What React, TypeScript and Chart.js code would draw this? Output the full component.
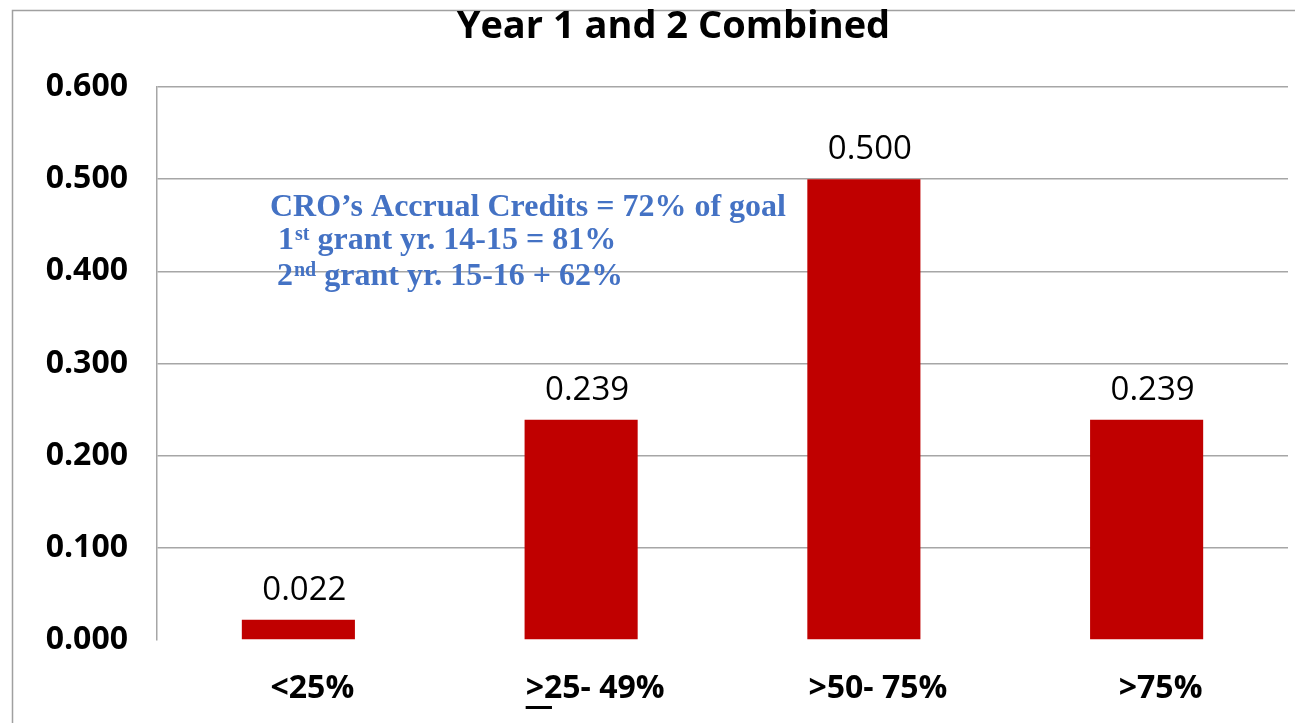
import React, { useEffect, useRef } from "react";
import { Chart, registerables } from "chart.js";

Chart.register(...registerables);

const categories = ["<25%", ">25- 49%", ">50- 75%", ">75%"];
const values = [0.022, 0.239, 0.5, 0.239];
const yTicks = [0, 0.1, 0.2, 0.3, 0.4, 0.5, 0.6];
const titleText = "Year 1 and 2 Combined";
const noteLine1 = "CRO\u2019s Accrual Credits = 72% of goal";
const noteLine2 = { lead: "1", sup: "st", rest: " grant yr. 14-15 = 81%" };
const noteLine3 = { lead: "2", sup: "nd", rest: " grant yr. 15-16 + 62%" };

const BAR_COLOR = "#C00000";
const GRID_COLOR = "#A6A6A6";
const NOTE_COLOR = "#4472C4";
const SANS = "'Open Sans', 'Liberation Sans', sans-serif";
const SERIF = "'Liberation Serif', 'DejaVu Serif', serif";

const framePlugin = {
  id: "frame",
  beforeDraw(chart: any) {
    const ctx = chart.ctx;
    ctx.save();
    ctx.strokeStyle = "#A0A0A0";
    ctx.lineWidth = 1.5;
    ctx.strokeRect(12.5, 10.5, chart.width + 20, chart.height + 20);
    ctx.restore();
  },
};

const titlePlugin = {
  id: "customTitle",
  afterDraw(chart: any) {
    const ctx = chart.ctx;
    ctx.save();
    ctx.font = `700 38px ${SANS}`;
    ctx.fillStyle = "#000";
    ctx.textAlign = "center";
    ctx.textBaseline = "alphabetic";
    ctx.fillText(titleText, chart.width * 0.52, 38);
    ctx.restore();
  },
};

const labelsPlugin = {
  id: "valueLabels",
  afterDatasetsDraw(chart: any) {
    const ctx = chart.ctx;
    const meta = chart.getDatasetMeta(0);
    ctx.save();
    ctx.font = `400 33px ${SANS}`;
    ctx.fillStyle = "#000";
    ctx.textAlign = "center";
    ctx.textBaseline = "alphabetic";
    meta.data.forEach((el: any, i: number) => {
      ctx.fillText(values[i].toFixed(3), el.x + 6, el.y - 20);
    });
    ctx.restore();
  },
};

const notePlugin = {
  id: "note",
  afterDraw(chart: any) {
    const ctx = chart.ctx;
    const a = chart.chartArea;
    ctx.save();
    ctx.fillStyle = NOTE_COLOR;
    ctx.textAlign = "left";
    ctx.textBaseline = "alphabetic";
    const big = `700 32px ${SERIF}`;
    const small = `700 20px ${SERIF}`;
    ctx.font = big;
    ctx.fillText(noteLine1, a.left + 113, a.top + 129);
    const drawSup = (line: any, x: number, y: number) => {
      ctx.font = big;
      ctx.fillText(line.lead, x, y);
      let cx = x + ctx.measureText(line.lead).width + 1;
      ctx.font = small;
      ctx.fillText(line.sup, cx, y - 9);
      cx += ctx.measureText(line.sup).width;
      ctx.font = big;
      ctx.fillText(line.rest, cx, y);
    };
    drawSup(noteLine2, a.left + 121, a.top + 162);
    drawSup(noteLine3, a.left + 120, a.top + 198);

    // underline under ">" of the second category (means >=)
    const meta = chart.getDatasetMeta(0);
    const el = meta.data[1];
    if (el) {
      ctx.font = `700 32px ${SANS}`;
      const w = ctx.measureText(categories[1]).width;
      const gw = ctx.measureText(">").width;
      const x0 = el.x + 14 - w / 2;
      ctx.fillStyle = "#000";
      ctx.fillRect(x0, a.bottom + 66, gw + 8, 3);
    }
    ctx.restore();
  },
};

export default function App() {
  const ref = useRef<HTMLCanvasElement | null>(null);
  useEffect(() => {
    if (!ref.current) return;
    const chart = new Chart(ref.current, {
      type: "bar",
      data: {
        labels: categories,
        datasets: [
          {
            data: values,
            backgroundColor: BAR_COLOR,
            borderWidth: 0,
            barPercentage: 0.8,
            categoryPercentage: 0.5,
          },
        ],
      },
      options: {
        animation: false,
        responsive: true,
        maintainAspectRatio: false,
        layout: { padding: { left: 0, right: 7, top: 87, bottom: 0 } },
        plugins: {
          legend: { display: false },
          tooltip: { enabled: false },
          title: { display: false },
        },
        scales: {
          x: {
            grid: { display: false, drawTicks: false },
            border: { display: false },
            ticks: {
              color: "#000",
              font: { family: SANS, size: 32, weight: "bold" },
              padding: 30,
              labelOffset: 14,
              maxRotation: 0,
            },
            afterFit: (s: any) => {
              s.height = 83;
            },
          },
          y: {
            min: 0,
            max: 0.6,
            afterBuildTicks: (s: any) => {
              s.ticks = yTicks.map((v) => ({ value: v }));
            },
            grid: {
              color: (c: any) => (c.tick && c.tick.value === 0 ? "rgba(0,0,0,0)" : GRID_COLOR),
              lineWidth: 1.5,
              drawTicks: false,
            },
            border: { display: true, color: GRID_COLOR, width: 1.5 },
            ticks: {
              color: "#000",
              font: { family: SANS, size: 32, weight: "bold" },
              padding: 29,
              callback: (v: any) => Number(v).toFixed(3),
            },
            afterFit: (s: any) => {
              s.width = 157;
            },
          },
        },
      },
      plugins: [framePlugin, titlePlugin, labelsPlugin, notePlugin],
    });
    return () => chart.destroy();
  }, []);

  return (
    <div style={{ position: "fixed", left: 0, top: 0, width: 1295, height: 723, background: "#fff" }}>
      <canvas ref={ref} />
    </div>
  );
}
